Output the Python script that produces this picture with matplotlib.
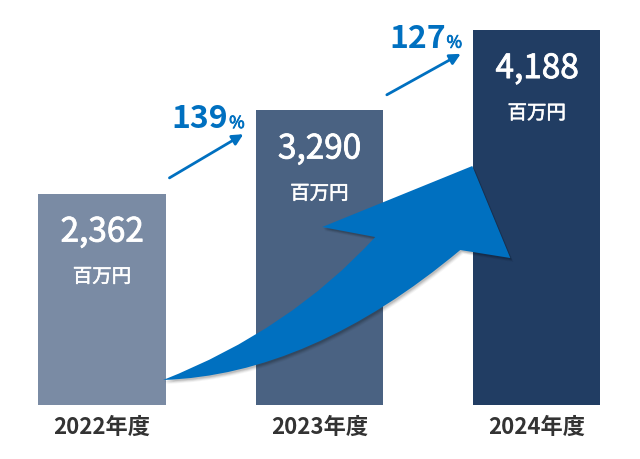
import numpy as np
import matplotlib
matplotlib.use("Agg")
import matplotlib.pyplot as plt
from matplotlib.path import Path
from matplotlib.patches import PathPatch
from matplotlib import transforms
import matplotlib.patheffects as pe

plt.rcParams["font.family"] = ["Noto Sans CJK JP", "DejaVu Sans"]

# data
years = ["2022年度", "2023年度", "2024年度"]
values = [2362, 3290, 4188]
growth = [139, 127]
unit = "百万円"
bar_colors = ["#7a8ba4", "#4a6282", "#213d63"]
blue = "#0070c0"

fig = plt.figure(figsize=(6.4, 4.59), dpi=100)
ax = fig.add_axes([0, 0, 1, 1])
ax.set_xlim(-0.4695, 2.4746)
ax.set_ylim(-603, 4524)
ax.axis("off")

x = np.arange(len(values))
ax.bar(x, values, width=0.585, color=bar_colors, zorder=1)

# regular weight looks too thin, bold too heavy -> thicken a bit
thick = [pe.withStroke(linewidth=0.6, foreground="white")]
thick_unit = [pe.withStroke(linewidth=0.4, foreground="white")]

for i, v in enumerate(values):
    ax.text(x[i], v - 536, f"{v:,}", color="white", fontsize=24,
            ha="center", va="baseline", zorder=5, path_effects=thick)
    ax.text(x[i], v - 930, unit, color="white", fontsize=14,
            ha="center", va="center", zorder=5, path_effects=thick_unit)
    ax.text(x[i], -245, years[i], color="#333333", fontsize=16,
            fontweight="bold", ha="center", va="center")

# growth arrows + percent labels
for i, g in enumerate(growth):
    ax.annotate("", xy=(x[i] + 0.65, values[i + 1] - 265),
                xytext=(x[i] + 0.31, values[i] + 175),
                arrowprops=dict(arrowstyle="-|>", color=blue, lw=2,
                                mutation_scale=16, shrinkA=0, shrinkB=0))
    ax.text(x[i] + 0.58, values[i + 1] - 196, str(g), color=blue,
            fontsize=23, fontweight="bold", ha="right", va="baseline")
    ax.text(x[i] + 0.585, values[i + 1] - 196, "%", color=blue,
            fontsize=12, ha="left", va="baseline",
            path_effects=[pe.withStroke(linewidth=0.6, foreground=blue)])


# big curved arrow (drawn in data units relative to the bars)
def px(p):
    return ((p[0] - 102) / 217.25, (405 - p[1]) * 11.17)


pts = [(163, 380), (290, 330), (375, 237),   # upper edge (quad bezier)
       (322, 227), (472, 166), (510, 258),   # arrow head
       (460, 250), (310.5, 375), (163, 380)]  # lower edge (quad bezier)
codes = [Path.MOVETO, Path.CURVE3, Path.CURVE3,
         Path.LINETO, Path.LINETO, Path.LINETO,
         Path.LINETO, Path.CURVE3, Path.CURVE3]
arrow_path = Path([px(p) for p in pts], codes)

for k, a in [(5, 0.04), (4, 0.06), (3, 0.08), (2, 0.1)]:
    shadow_tr = transforms.offset_copy(ax.transData, fig=fig, x=k * 0.6,
                                       y=-k * 0.8, units="dots")
    ax.add_patch(PathPatch(arrow_path, facecolor="black", edgecolor="none",
                           alpha=a, transform=shadow_tr, zorder=2))
ax.add_patch(PathPatch(arrow_path, facecolor=blue, edgecolor="none", zorder=3))

fig.savefig("out.png", dpi=100)
